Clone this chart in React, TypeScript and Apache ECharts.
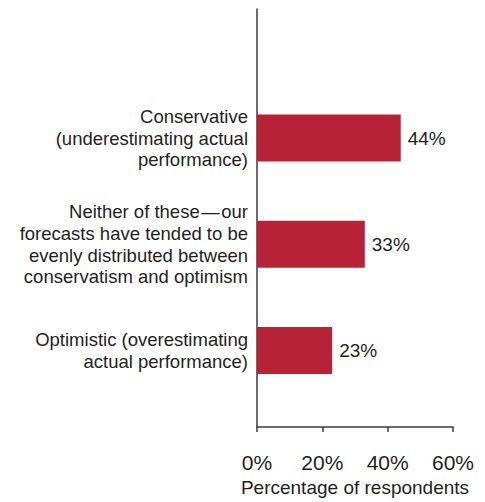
import React, { useEffect, useRef } from "react";
import * as echarts from "echarts";

const categories = [
  "Conservative\n(underestimating actual\nperformance)",
  "Neither of these\u200a\u2014\u200aour\nforecasts have tended to be\nevenly distributed between\nconservatism and optimism",
  "Optimistic (overestimating\nactual performance)",
];
const values = [44, 33, 23];
const xTicks = { min: 0, max: 60, interval: 20 };
const xTitle = "Percentage of respondents";

const FONT = "'Liberation Sans', Arial, Helvetica, sans-serif";
const TEXT = "#231f20";
const AXIS = "#3c3c3c";
const BAR = "#b82236";

export default function App() {
  const ref = useRef<HTMLDivElement>(null);
  useEffect(() => {
    if (!ref.current) return;
    const chart = echarts.init(ref.current, undefined, { renderer: "svg" });
    chart.setOption({
      animation: false,
      backgroundColor: "#ffffff",
      textStyle: { fontFamily: FONT, color: TEXT },
      grid: [
        { left: 257, right: 32, top: 9, bottom: 70 },
        { left: 257, right: 32, top: 85, bottom: 98.5 },
      ],
      xAxis: [
        {
          gridIndex: 0,
          type: "value",
          min: xTicks.min,
          max: xTicks.max,
          interval: xTicks.interval,
          axisLine: { show: true, lineStyle: { color: AXIS, width: 1.5 } },
          axisTick: { show: true, length: 5, lineStyle: { color: AXIS, width: 1.5 } },
          axisLabel: {
            formatter: "{value}%",
            fontSize: 21,
            color: TEXT,
            fontFamily: FONT,
            margin: 25,
          },
          splitLine: { show: false },
          name: xTitle,
          nameLocation: "middle",
          nameGap: 46,
          nameTextStyle: { fontSize: 19, color: TEXT, fontFamily: FONT },
        },
        {
          gridIndex: 1,
          type: "value",
          min: xTicks.min,
          max: xTicks.max,
          show: false,
        },
      ],
      yAxis: [
        {
          gridIndex: 0,
          type: "value",
          min: 0,
          max: 1,
          axisLine: { show: true, lineStyle: { color: AXIS, width: 1.5 } },
          axisTick: { show: false },
          axisLabel: { show: false },
          splitLine: { show: false },
        },
        {
          gridIndex: 1,
          type: "category",
          inverse: true,
          data: categories,
          axisLine: { show: false },
          axisTick: { show: false },
          axisLabel: {
            fontSize: 18.5,
            lineHeight: 21.6,
            color: TEXT,
            fontFamily: FONT,
            margin: 9,
            align: "right",
          },
        },
      ],
      series: [
        {
          type: "bar",
          xAxisIndex: 1,
          yAxisIndex: 1,
          data: values,
          barWidth: 47,
          itemStyle: { color: BAR },
          label: {
            show: true,
            position: "right",
            distance: 7,
            formatter: "{c}%",
            fontSize: 19,
            color: TEXT,
            fontFamily: FONT,
          },
        },
      ],
    });
    return () => chart.dispose();
  }, []);
  return (
    <div
      ref={ref}
      style={{ position: "fixed", left: 0, top: 0, width: 485, height: 502 }}
    />
  );
}
